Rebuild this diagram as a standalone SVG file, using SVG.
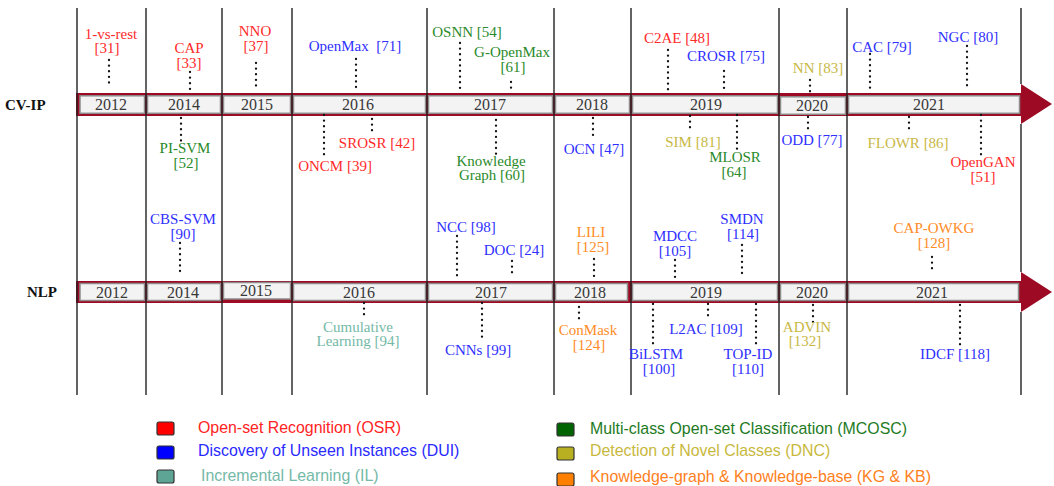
<svg xmlns="http://www.w3.org/2000/svg" width="1054" height="486" viewBox="0 0 1054 486">
<style>
.lbl{font-family:"Liberation Serif","Times New Roman",serif;font-size:15px;text-anchor:middle}
.r{fill:#ff2a2a}.b{fill:#2f2fff}.g{fill:#2a8a2a}.y{fill:#c8b845}.o{fill:#ff8c26}.t{fill:#74b9a7}
.yr{font-family:"Liberation Serif","Times New Roman",serif;font-size:16px;fill:#383838;text-anchor:middle}
.row{font-family:"Liberation Serif","Times New Roman",serif;font-size:15px;font-weight:bold;fill:#111}
.cell{fill:#f3f3f3;stroke:#8c8c8c;stroke-width:1.5}
.band{fill:#9c0a24}
.vl{stroke:#222;stroke-width:1.4}
.dot{stroke:#111;stroke-width:2.3;stroke-linecap:round;stroke-dasharray:0.1 5.5;fill:none}
.leg{font-family:"Liberation Sans",Arial,sans-serif;font-size:15.9px}
.sq{stroke:#333;stroke-width:1.2}
</style>
<rect width="1054" height="486" fill="#ffffff"/>

<g id="axes">
  <rect class="band" x="76" y="93" width="945" height="23"/>
  <polygon class="band" points="1021,84 1052,104 1021,124"/>
  <rect class="cell" x="80" y="95.8" width="64.5" height="17.5"/>
  <rect class="cell" x="147.5" y="95.8" width="73" height="17.5"/>
  <rect class="cell" x="223.5" y="95.8" width="67" height="17.5"/>
  <rect class="cell" x="293.5" y="95.8" width="132" height="17.5"/>
  <rect class="cell" x="428.5" y="95.8" width="124" height="17.5"/>
  <rect class="cell" x="555.5" y="95.8" width="74" height="17.5"/>
  <rect class="cell" x="632.5" y="95.8" width="145" height="17.5"/>
  <rect class="cell" x="780.5" y="96.8" width="65" height="17.5"/>
  <rect class="cell" x="848.5" y="95.8" width="171" height="17.5"/>
  <rect class="band" x="76" y="281" width="945" height="22"/>
  <polygon class="band" points="1021,272 1052,292 1021,312"/>
  <rect class="cell" x="80" y="283.5" width="64.5" height="17"/>
  <rect class="cell" x="147.5" y="283.5" width="73" height="17"/>
  <rect class="cell" x="223.5" y="282.5" width="67" height="16.5"/>
  <rect class="cell" x="293.5" y="283.5" width="132" height="17"/>
  <rect class="cell" x="428.5" y="283.5" width="124" height="17"/>
  <rect class="cell" x="555.5" y="283.5" width="72" height="17"/>
  <rect class="cell" x="632.5" y="283.5" width="145" height="17"/>
  <rect class="cell" x="780.5" y="283.5" width="65" height="17"/>
  <rect class="cell" x="848.5" y="283.5" width="170" height="17"/>
  <line class="vl" x1="77" y1="8" x2="77" y2="395"/>
  <line class="vl" x1="146" y1="8" x2="146" y2="395"/>
  <line class="vl" x1="222" y1="8" x2="222" y2="395"/>
  <line class="vl" x1="292" y1="8" x2="292" y2="395"/>
  <line class="vl" x1="427" y1="8" x2="427" y2="395"/>
  <line class="vl" x1="554" y1="8" x2="554" y2="395"/>
  <line class="vl" x1="631" y1="8" x2="631" y2="395"/>
  <line class="vl" x1="779" y1="8" x2="779" y2="395"/>
  <line class="vl" x1="847" y1="8" x2="847" y2="395"/>
  <line class="vl" x1="1021" y1="8" x2="1021" y2="84"/>
  <line class="vl" x1="1021" y1="124" x2="1021" y2="272"/>
  <line class="vl" x1="1021" y1="312" x2="1021" y2="395"/>
  <text class="yr" x="111" y="110">2012</text>
  <text class="yr" x="184" y="110">2014</text>
  <text class="yr" x="257" y="110">2015</text>
  <text class="yr" x="358" y="110">2016</text>
  <text class="yr" x="490" y="110">2017</text>
  <text class="yr" x="592" y="110">2018</text>
  <text class="yr" x="706" y="110">2019</text>
  <text class="yr" x="812" y="111">2020</text>
  <text class="yr" x="929" y="110">2021</text>
  <text class="yr" x="112" y="298">2012</text>
  <text class="yr" x="183" y="298">2014</text>
  <text class="yr" x="256" y="296">2015</text>
  <text class="yr" x="359" y="298">2016</text>
  <text class="yr" x="491" y="298">2017</text>
  <text class="yr" x="590" y="298">2018</text>
  <text class="yr" x="706" y="298">2019</text>
  <text class="yr" x="812" y="298">2020</text>
  <text class="yr" x="932" y="298">2021</text>
  <text class="row" x="5" y="110">CV-IP</text>
  <text class="row" x="27" y="297">NLP</text>
</g>

<g id="connectors">
  <line class="dot" x1="109" y1="60" x2="109" y2="88"/>
  <line class="dot" x1="190" y1="72" x2="190" y2="93"/>
  <line class="dot" x1="256" y1="63" x2="256" y2="87"/>
  <line class="dot" x1="356" y1="59" x2="356" y2="88"/>
  <line class="dot" x1="460" y1="43" x2="460" y2="93"/>
  <line class="dot" x1="511" y1="82" x2="511" y2="92"/>
  <line class="dot" x1="668" y1="50" x2="668" y2="93"/>
  <line class="dot" x1="724" y1="71" x2="724" y2="93"/>
  <line class="dot" x1="810" y1="80" x2="810" y2="93"/>
  <line class="dot" x1="870" y1="54" x2="870" y2="90"/>
  <line class="dot" x1="967" y1="46" x2="967" y2="90"/>
  <line class="dot" x1="181" y1="118" x2="181" y2="141"/>
  <line class="dot" x1="324" y1="115" x2="324" y2="158"/>
  <line class="dot" x1="372" y1="119" x2="372" y2="135"/>
  <line class="dot" x1="496" y1="120" x2="496" y2="158"/>
  <line class="dot" x1="593" y1="118" x2="593" y2="140"/>
  <line class="dot" x1="690" y1="116" x2="690" y2="130"/>
  <line class="dot" x1="737" y1="115" x2="737" y2="150"/>
  <line class="dot" x1="808" y1="117" x2="808" y2="130"/>
  <line class="dot" x1="909" y1="117" x2="909" y2="130"/>
  <line class="dot" x1="981" y1="115" x2="981" y2="156"/>
  <line class="dot" x1="180" y1="243" x2="180" y2="274"/>
  <line class="dot" x1="457" y1="236" x2="457" y2="280"/>
  <line class="dot" x1="512" y1="261" x2="512" y2="276"/>
  <line class="dot" x1="594" y1="259" x2="594" y2="280"/>
  <line class="dot" x1="675" y1="260" x2="675" y2="280"/>
  <line class="dot" x1="742" y1="245" x2="742" y2="274"/>
  <line class="dot" x1="932" y1="257" x2="932" y2="273"/>
  <line class="dot" x1="364" y1="303" x2="364" y2="318"/>
  <line class="dot" x1="482" y1="303" x2="482" y2="340"/>
  <line class="dot" x1="579" y1="307" x2="579" y2="322"/>
  <line class="dot" x1="653" y1="304" x2="653" y2="345"/>
  <line class="dot" x1="708" y1="304" x2="708" y2="318"/>
  <line class="dot" x1="756" y1="304" x2="756" y2="345"/>
  <line class="dot" x1="813" y1="305" x2="813" y2="325"/>
  <line class="dot" x1="960" y1="305" x2="960" y2="345"/>
</g>

<g id="n-1vsrest"><text class="lbl r" x="111" y="39">1-vs-rest</text><text class="lbl r" x="107" y="53">[31]</text></g>
<g id="n-cap"><text class="lbl r" x="189" y="53">CAP</text><text class="lbl r" x="189" y="68">[33]</text></g>
<g id="n-nno"><text class="lbl r" x="255" y="36">NNO</text><text class="lbl r" x="256" y="51">[37]</text></g>
<g id="n-openmax"><text class="lbl b" x="355" y="51">OpenMax&#160; [71]</text></g>
<g id="n-osnn"><text class="lbl g" x="467" y="37">OSNN [54]</text></g>
<g id="n-gopenmax"><text class="lbl g" x="512" y="57">G-OpenMax</text><text class="lbl g" x="513" y="72">[61]</text></g>
<g id="n-c2ae"><text class="lbl r" x="677" y="43">C2AE [48]</text></g>
<g id="n-crosr"><text class="lbl b" x="726" y="61">CROSR [75]</text></g>
<g id="n-nn"><text class="lbl y" x="818" y="73">NN [83]</text></g>
<g id="n-cac"><text class="lbl b" x="882" y="52">CAC [79]</text></g>
<g id="n-ngc"><text class="lbl b" x="968" y="42">NGC [80]</text></g>
<g id="n-pisvm"><text class="lbl g" x="185" y="153">PI-SVM</text><text class="lbl g" x="186" y="168">[52]</text></g>
<g id="n-oncm"><text class="lbl r" x="335" y="171">ONCM [39]</text></g>
<g id="n-srosr"><text class="lbl r" x="377" y="148">SROSR [42]</text></g>
<g id="n-kg"><text class="lbl g" x="491" y="166">Knowledge</text><text class="lbl g" x="492" y="180">Graph [60]</text></g>
<g id="n-ocn"><text class="lbl b" x="594" y="154">OCN [47]</text></g>
<g id="n-sim"><text class="lbl y" x="693" y="147">SIM [81]</text></g>
<g id="n-mlosr"><text class="lbl g" x="735" y="162">MLOSR</text><text class="lbl g" x="734" y="177">[64]</text></g>
<g id="n-odd"><text class="lbl b" x="812" y="145">ODD [77]</text></g>
<g id="n-flowr"><text class="lbl y" x="908" y="148">FLOWR [86]</text></g>
<g id="n-opengan"><text class="lbl r" x="983" y="167">OpenGAN</text><text class="lbl r" x="983" y="182">[51]</text></g>

<g id="n-cbssvm"><text class="lbl b" x="183" y="224">CBS-SVM</text><text class="lbl b" x="183" y="239">[90]</text></g>
<g id="n-ncc"><text class="lbl b" x="466" y="232">NCC [98]</text></g>
<g id="n-doc"><text class="lbl b" x="514" y="255">DOC [24]</text></g>
<g id="n-lili"><text class="lbl o" x="591" y="237">LILI</text><text class="lbl o" x="593" y="252">[125]</text></g>
<g id="n-mdcc"><text class="lbl b" x="675" y="241">MDCC</text><text class="lbl b" x="675" y="256">[105]</text></g>
<g id="n-smdn"><text class="lbl b" x="742" y="224">SMDN</text><text class="lbl b" x="743" y="239">[114]</text></g>
<g id="n-capowkg"><text class="lbl o" x="934" y="233">CAP-OWKG</text><text class="lbl o" x="934" y="248">[128]</text></g>
<g id="n-cumulative"><text class="lbl t" x="358" y="332">Cumulative</text><text class="lbl t" x="358" y="346">Learning [94]</text></g>
<g id="n-cnns"><text class="lbl b" x="478" y="355">CNNs [99]</text></g>
<g id="n-conmask"><text class="lbl o" x="588" y="335">ConMask</text><text class="lbl o" x="589" y="350">[124]</text></g>
<g id="n-bilstm"><text class="lbl b" x="656" y="359">BiLSTM</text><text class="lbl b" x="659" y="374">[100]</text></g>
<g id="n-l2ac"><text class="lbl b" x="706" y="334">L2AC [109]</text></g>
<g id="n-topid"><text class="lbl b" x="748" y="359">TOP-ID</text><text class="lbl b" x="748" y="374">[110]</text></g>
<g id="n-advin"><text class="lbl y" x="807" y="332">ADVIN</text><text class="lbl y" x="805" y="346">[132]</text></g>
<g id="n-idcf"><text class="lbl b" x="955" y="359">IDCF [118]</text></g>

<g id="legend">
  <rect class="sq" x="157" y="422" width="17" height="13" rx="2" fill="#ff0000"/>
  <text class="leg" x="198" y="433" fill="#ff2424">Open-set Recognition (OSR)</text>
  <rect class="sq" x="157" y="446" width="17" height="13" rx="2" fill="#0000ff"/>
  <text class="leg" x="198" y="456" fill="#2a2aff">Discovery of Unseen Instances (DUI)</text>
  <rect class="sq" x="157" y="470" width="17" height="13" rx="2" fill="#5fa595"/>
  <text class="leg" x="201" y="481" fill="#74b9a7">Incremental Learning (IL)</text>
  <rect class="sq" x="557" y="423" width="17" height="13" rx="2" fill="#006400"/>
  <text class="leg" x="590" y="434" fill="#1e7a1e">Multi-class Open-set Classification (MCOSC)</text>
  <rect class="sq" x="557" y="447" width="17" height="13" rx="2" fill="#b8b020"/>
  <text class="leg" x="590" y="456" fill="#c8b83c">Detection of Novel Classes (DNC)</text>
  <rect class="sq" x="557" y="473" width="17" height="13" rx="2" fill="#ff8000"/>
  <text class="leg" x="590" y="482" fill="#ff8020">Knowledge-graph &amp; Knowledge-base (KG &amp; KB)</text>
</g>
</svg>
